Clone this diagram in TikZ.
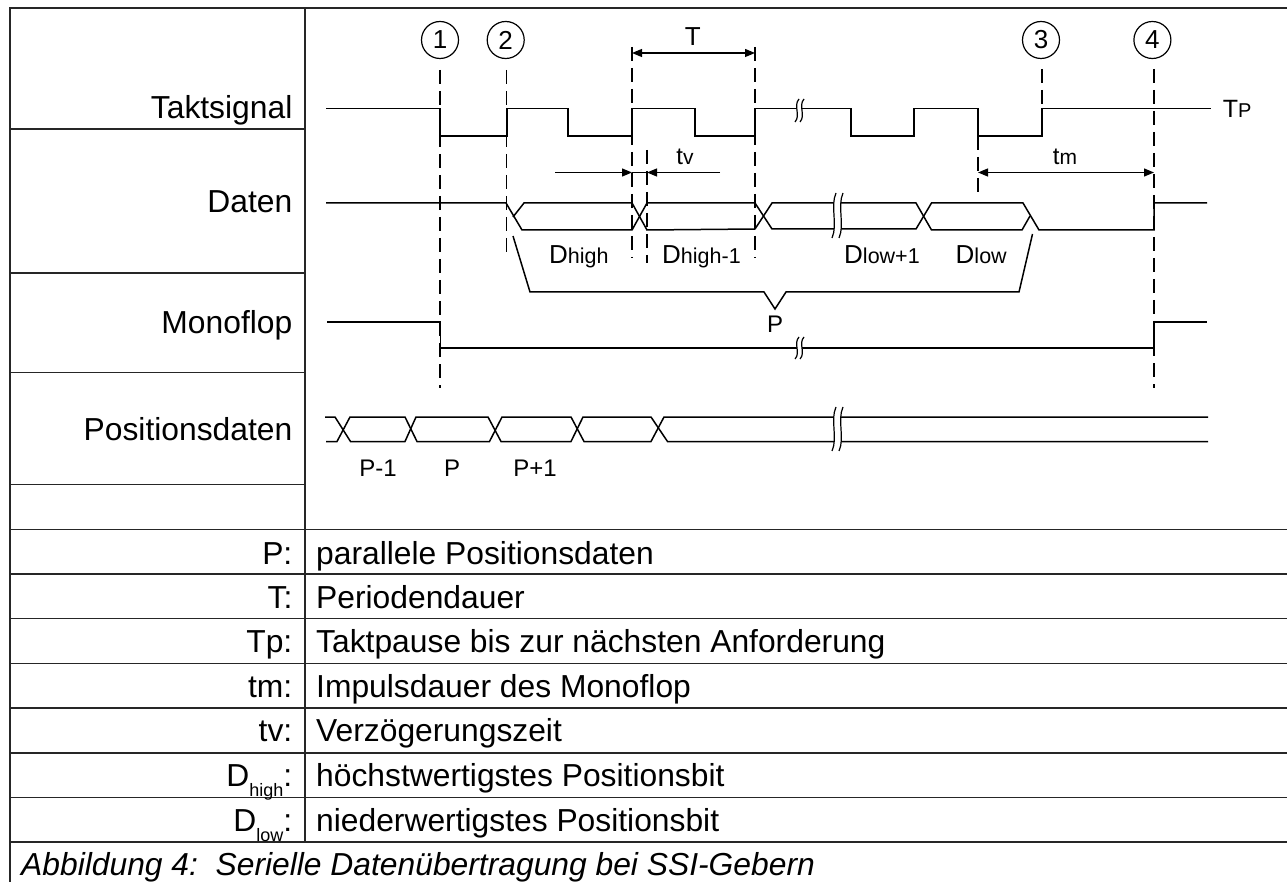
\documentclass[tikz,border=0pt]{standalone}
\usepackage{fontspec}
\setmainfont{Liberation Sans}
\usetikzlibrary{arrows.meta}
\newcommand{\fs}[1]{\fontsize{#1}{#1}\selectfont}
\newcommand{\DD}[1]{{\fs{26}D}{\fs{21.5}#1}}
\newcommand{\wavebreak}[4]{% x, y1, y2, gap
  \fill[white] (#1+2,#2) .. controls (#1-4,#2+0.3*#3-0.3*#2) and (#1+4,#2+0.7*#3-0.7*#2) .. (#1-2,#3)
     -- (#1-2+#4,#3) .. controls (#1+4+#4,#2+0.7*#3-0.7*#2) and (#1-4+#4,#2+0.3*#3-0.3*#2) .. (#1+2+#4,#2) -- cycle;
  \draw[thin line] (#1+2,#2) .. controls (#1-4,#2+0.3*#3-0.3*#2) and (#1+4,#2+0.7*#3-0.7*#2) .. (#1-2,#3);
  \draw[thin line] (#1+2+#4,#2) .. controls (#1-4+#4,#2+0.3*#3-0.3*#2) and (#1+4+#4,#2+0.7*#3-0.7*#2) .. (#1-2+#4,#3);
}
\tikzset{
  x=1pt,y=-1pt,
  grid/.style={line width=1.2pt,black!85},
  sig/.style={line width=1.5pt,line join=miter},
  thin line/.style={line width=1.2pt},
  guide/.style={line width=1.2pt,dash pattern=on 14pt off 7pt},
  dim/.style={line width=1.2pt,{Triangle[length=10pt,width=8pt]}-{Triangle[length=10pt,width=8pt]}},
  dimr/.style={line width=1.2pt,-{Triangle[length=10pt,width=8pt]}},
  rowl/.style={anchor=base east,inner sep=0pt,font=\fs{31.8}},
  rowr/.style={anchor=base west,inner sep=0pt,font=\fs{31.8}},
  small/.style={anchor=base,inner sep=0pt,font=\fs{24}},
  bit/.style={anchor=base west,inner sep=0pt},
  num/.style={circle,draw,line width=1.2pt,minimum size=37pt,inner sep=0pt,font=\fs{26}},
}
\begin{document}
\begin{tikzpicture}
\useasboundingbox (0,0) rectangle (1287,882);
% table
\draw[grid] (10,882) -- (10,8) -- (1287,8);
\draw[grid] (305,8) -- (305,842);
\foreach \y in {129,273,372.5,484.5} \draw[grid] (10,\y) -- (305,\y);
\foreach \y in {529.5,574,618.5,663.5,708,753,797.5,842} \draw[grid] (10,\y) -- (1287,\y);
% row labels
\node[rowl] (l1) at (292.5,119) {Taktsignal};
\node[rowl] (l2) at (292.5,213) {Daten};
\node[rowl] (l3) at (292.5,333.5) {Monoflop};
\node[rowl] (l4) at (292.5,440) {Positionsdaten};
\node[rowl] (k1) at (292.5,564) {P:};
\node[rowl] (k2) at (292.5,608) {T:};
\node[rowl] (k3) at (292.5,652.7) {Tp:};
\node[rowl] (k4) at (292.5,697) {tm:};
\node[rowl] (k5) at (292.5,741.7) {tv:};
\node[rowl] (k6) at (292.5,786) {D\raisebox{-10pt}{\fs{18}high}:};
\node[rowl] (k7) at (292.5,831) {D\raisebox{-10pt}{\fs{18}low}:};
\node[rowr] (v1) at (316,564) {parallele Positionsdaten};
\node[rowr] (v2) at (316,608) {Periodendauer};
\node[rowr] (v3) at (316,652.7) {Taktpause bis zur nächsten Anforderung};
\node[rowr] (v4) at (316,697) {Impulsdauer des Monoflop};
\node[rowr] (v5) at (316,741.7) {Verzögerungszeit};
\node[rowr] (v6) at (316,786) {höchstwertigstes Positionsbit};
\node[rowr] (v7) at (316,831) {niederwertigstes Positionsbit};
\node[rowr,font=\fs{31.8}\itshape] (cap) at (21,875) {Abbildung 4:\ \ Serielle Datenübertragung bei SSI-Gebern};
% circled numbers
\node[num] (n1) at (440,40) {1};
\node[num] (n2) at (505.7,40) {2};
\node[num] (n3) at (1041,40) {3};
\node[num] (n4) at (1152.4,40) {4};
% guides
\coordinate (g1) at (440,388);
\coordinate (g2) at (506.5,258);
\coordinate (g3) at (1042,108);
\coordinate (g4) at (1154,388);
\draw[guide] (440,70) -- (g1);
\draw[guide] (506.5,70) -- (g2);
\draw[guide] (632,47) -- (632,258);
\draw[guide] (755,47) -- (755,258);
\draw[guide] (647,150) -- (647,263);
\draw[guide] (1042,69) -- (g3);
\draw[guide] (1154,69) -- (g4);
\draw[guide] (978,136) -- (978,197);
% clock
\draw[sig] (326,108.5) -| (440,136) -| (507,108.5) -| (568,136) -| (632,108.5) -| (695,136) -| (755,108.5)
  -| (851,136) -| (914,108.5) -| (978,136) -| (1042,108.5) -- (1211,108.5);
\wavebreak{797}{99}{122}{5}
% data
\draw[sig] (326,203) -- (506,203) -- (522,230) -- (632,230) -- (647,203) -- (755,203) -- (772,229) -- (916,229)
  -- (931.5,203) -- (1023,203) -- (1039,230) -- (1154,230) -- (1154,203) -- (1207,203);
\draw[sig] (513,217) -- (524,203) -- (632,203) -- (647,230) -- (755,229) -- (772,203) -- (916,203)
  -- (931.5,230) -- (1022,230) -- (1030,216);
\wavebreak{834}{193}{238}{7}
% monoflop
\draw[sig] (327,322) -- (440.5,322) -- (440.5,348) -- (1154,348) -- (1154,322) -- (1207,322);
\wavebreak{797}{337}{359}{5}
% position data
\draw[sig] (325,417) -- (335,417) -- (350.5,441.5) -- (405,441.5) -- (416,417) -- (488,417) -- (501,441.5) -- (571,441.5)
  -- (583,417) -- (651,417) -- (667.5,441.5) -- (1208,441.5);
\draw[sig] (326,441.5) -- (337,441.5) -- (350,417) -- (405,417) -- (417,441.5) -- (489.5,441.5) -- (502,417) -- (571,417)
  -- (584,441.5) -- (651,441.5) -- (664,417) -- (1208,417);
\wavebreak{834}{407}{451}{7}
% brace
\draw[sig] (513,236) -- (530,292) -- (764,292) -- (775,309) -- (786,292) -- (1019,292) -- (1032.5,234);
\node[small] (pb) at (775,333) {P};
% dims
\coordinate (da) at (632,53); \coordinate (db) at (755,53);
\draw[dim] (da) -- (db);
\node[small,font=\fs{26}] (tT) at (692.7,46) {T};
\coordinate (ta) at (555,172.5); \coordinate (tb) at (632,172.5);
\coordinate (tc) at (720,172.5); \coordinate (td) at (647,172.5);
\draw[dimr] (ta) -- (tb);
\draw[dimr] (tc) -- (td);
\draw[line width=1.6pt] (tb) -- (td);
\node[small] (tv) at (685,165) {t{\fs{21}v}};
\coordinate (ma) at (978,172.5); \coordinate (mb) at (1154,172.5);
\draw[dim] (ma) -- (mb);
\node[small] (tm) at (1065,165) {t{\fs{21}m}};
\node[bit] (tp) at (1222.6,118) {{\fs{25}T}{\fs{20}P}};
% bit labels
\node[bit] (d1) at (549,264) {\DD{high}};
\node[bit] (d2) at (662,264) {\DD{high-1}};
\node[bit] (d3) at (844,264) {\DD{low+1}};
\node[bit] (d4) at (955.5,264) {\DD{low}};
\node[small] (p1) at (378,476) {P-1};
\node[small] (p2) at (452,476) {P};
\node[small] (p3) at (535,476) {P+1};
\end{tikzpicture}
\end{document}
